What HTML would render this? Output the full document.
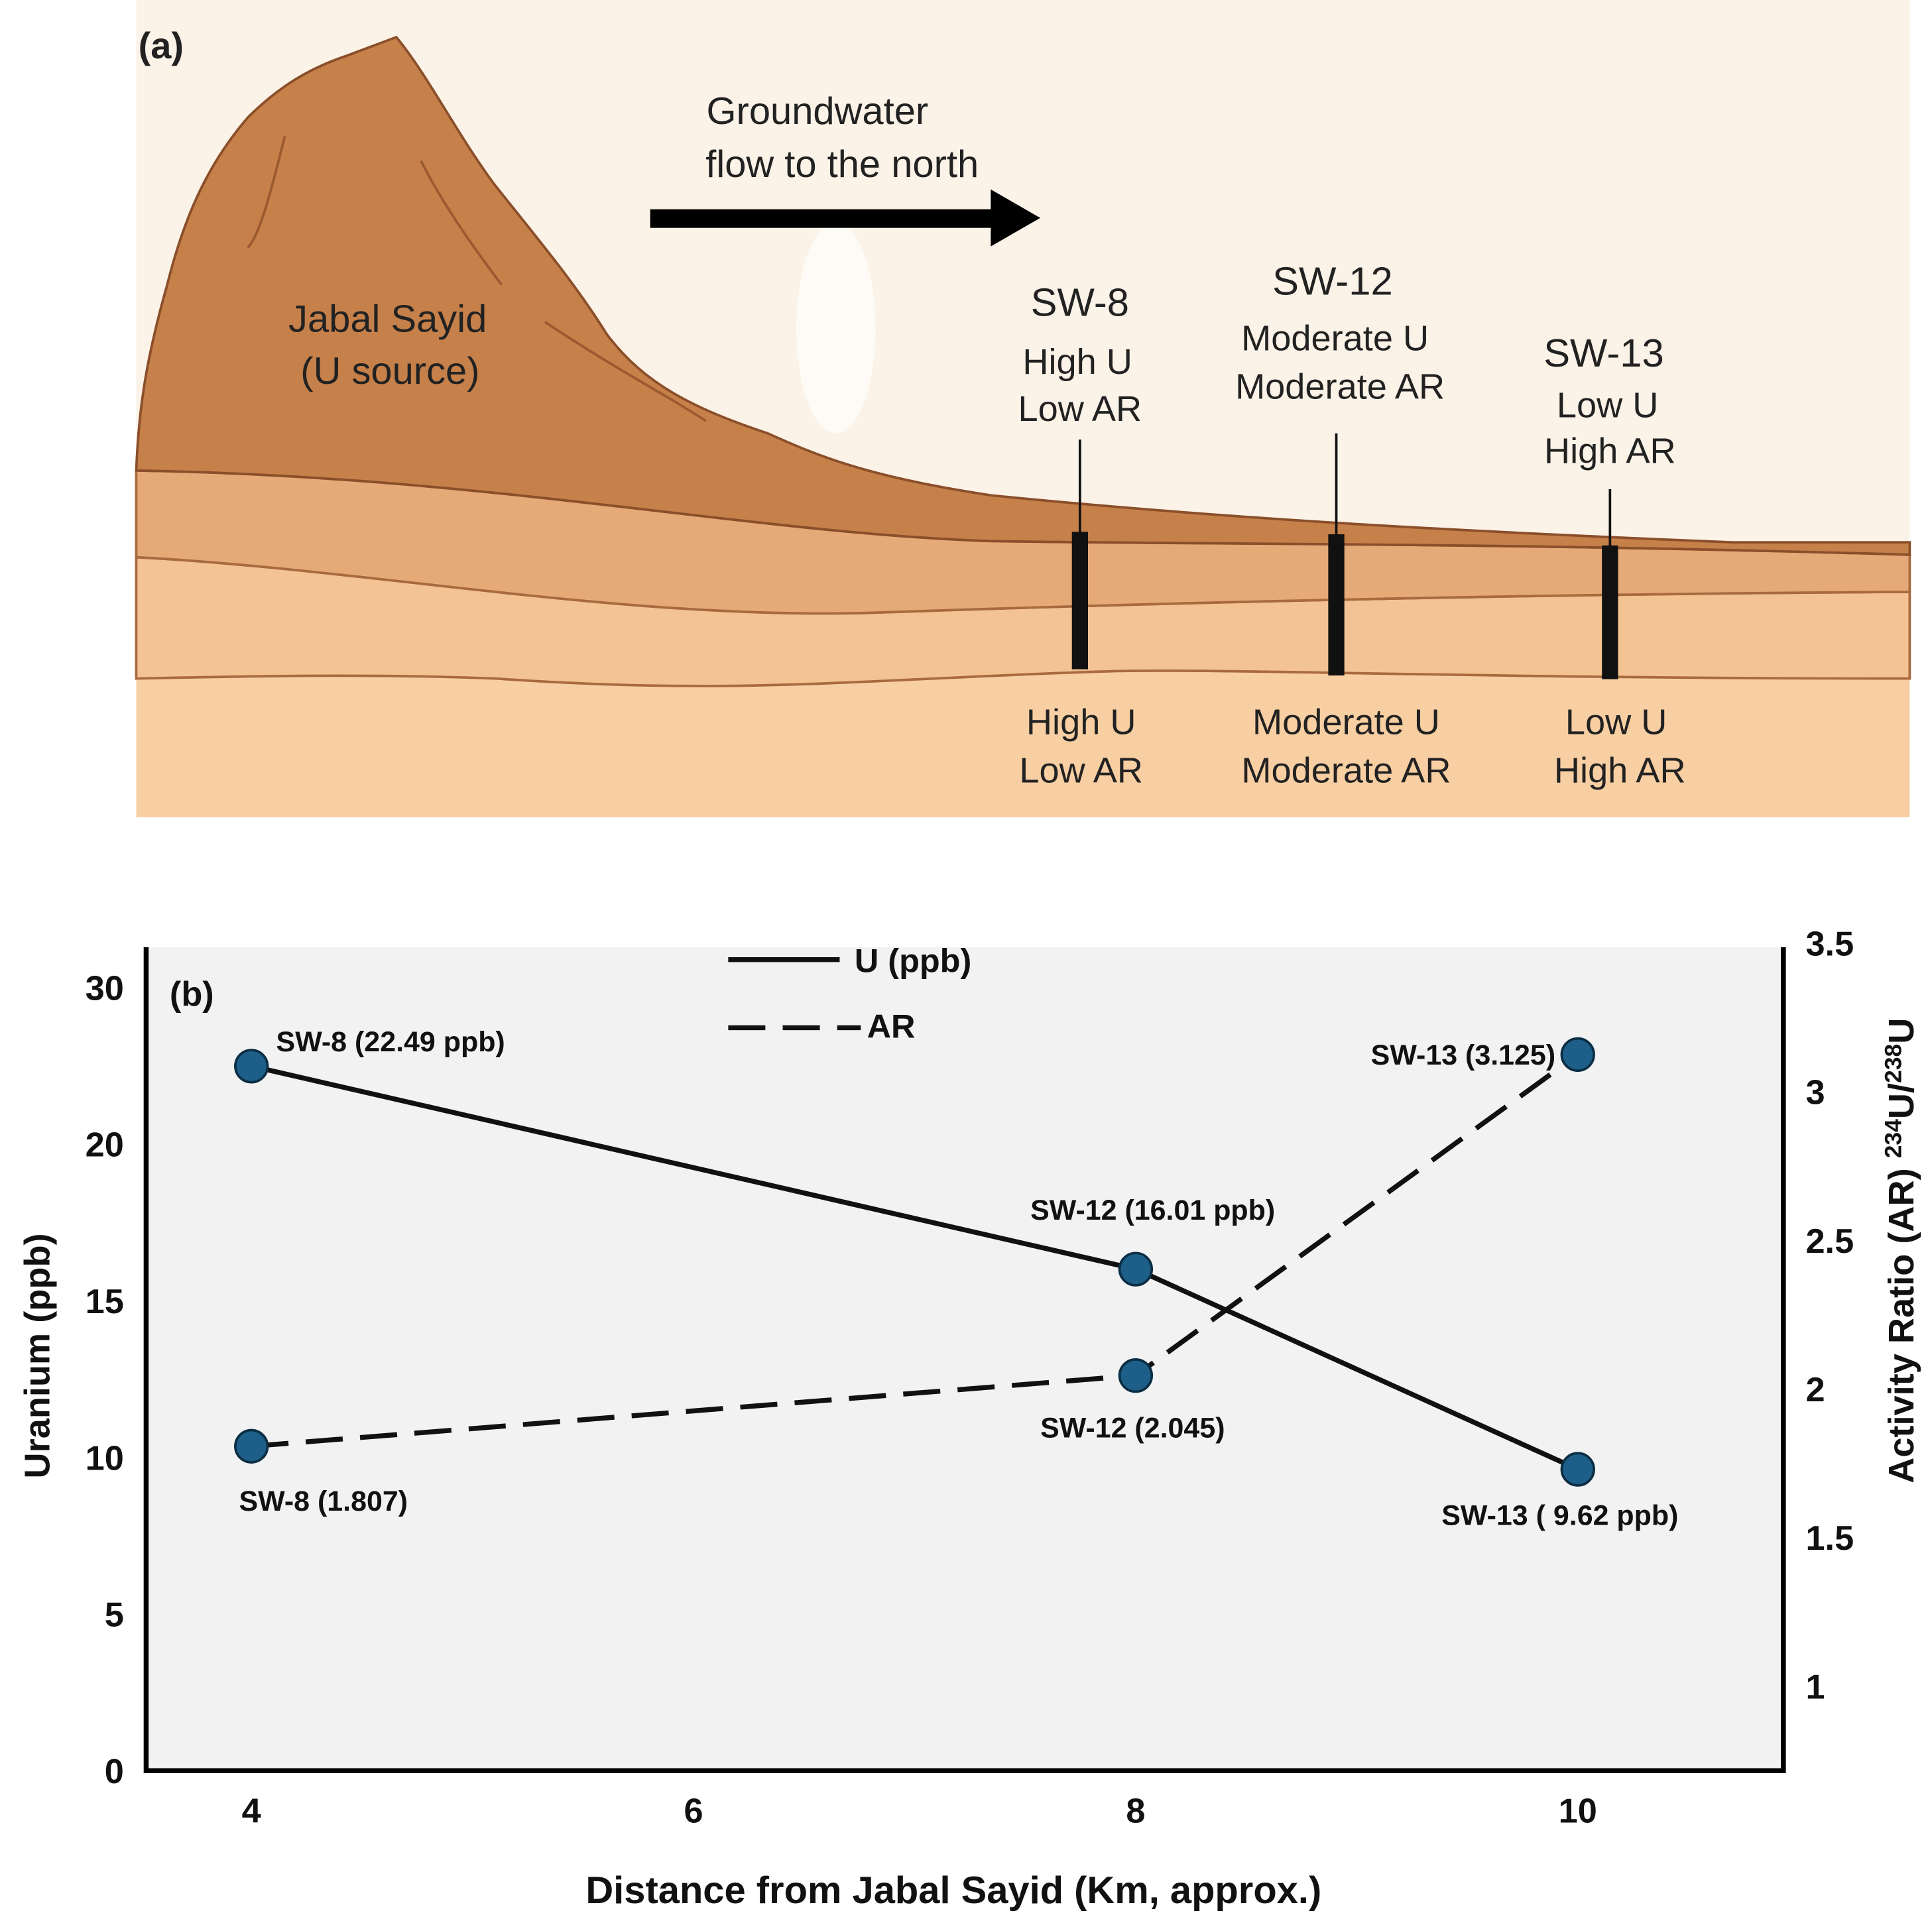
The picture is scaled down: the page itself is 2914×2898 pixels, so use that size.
<!DOCTYPE html>
<html><head><meta charset="utf-8"><style>
html,body{margin:0;padding:0;background:#fff}
svg{display:block}
text{font-family:"Liberation Sans",sans-serif}
</style></head><body>
<svg id="fig" width="2914" height="2898" viewBox="0 0 1560 1551.4" preserveAspectRatio="none" xmlns="http://www.w3.org/2000/svg">
<g>
  <rect x="110" y="0" width="1432" height="660" fill="#fcf3e8"/>
  <ellipse cx="675" cy="265" rx="32" ry="85" fill="#fefaf5"/>
  <rect x="110" y="540" width="1432" height="120" fill="#f8cfa3"/>
  <path d="M110,450 C300,460 500,500 700,495 C900,488 1200,480 1542,478 L1542,548 C1200,548 1000,540 900,542 C700,548 600,562 400,548 C300,544 200,546 110,548 Z" fill="#f3c393" stroke="#a86a3e" stroke-width="2"/>
  <path d="M110,380 C400,385 600,430 800,437 C1000,440 1200,438 1542,448 L1542,478 C1200,480 900,488 700,495 C500,500 300,460 110,450 Z" fill="#e5aa77" stroke="#a86a3e" stroke-width="2"/>
  <path d="M110,380 C112,330 118,290 135,230 C150,170 170,130 200,95 C225,70 250,55 280,45 L320,30 C345,60 370,110 400,150 C440,200 465,230 490,270 C520,310 560,330 620,350 C660,368 700,385 800,400 C1000,420 1200,430 1400,438 L1542,438 L1542,448 C1200,438 1000,440 800,437 C600,430 400,385 110,380 Z" fill="#c6804a" stroke="#8a4f2a" stroke-width="2"/>
  <path d="M340,130 C360,170 390,210 405,230 M230,110 C220,150 210,190 200,200 M440,260 C500,300 540,320 570,340" fill="none" stroke="#9a5a30" stroke-width="2"/>
  <g fill="#111" stroke="#111">
    <line x1="872" y1="355" x2="872" y2="430" stroke-width="2"/>
    <rect x="866" y="430" width="12" height="110"/>
    <line x1="1079" y1="350" x2="1079" y2="432" stroke-width="2"/>
    <rect x="1073" y="432" width="12" height="113"/>
    <line x1="1300" y1="395" x2="1300" y2="441" stroke-width="2"/>
    <rect x="1294" y="441" width="12" height="107"/>
  </g>
  <g fill="#000">
    <rect x="525" y="169" width="280" height="15"/>
    <polygon points="800,153 840,176 800,199"/>
  </g>
  <g fill="#222" font-size="31" text-anchor="middle">
    <text x="130" y="47" font-weight="bold" font-size="30">(a)</text>
    <text x="660" y="100">Groundwater</text>
    <text x="680" y="143">flow to the north</text>
    <text x="313" y="268">Jabal Sayid</text>
    <text x="315" y="310">(U source)</text>
    <text x="872" y="255" font-size="32">SW-8</text>
    <text x="870" y="302" font-size="29">High U</text>
    <text x="872" y="340" font-size="29">Low AR</text>
    <text x="1076" y="238" font-size="32">SW-12</text>
    <text x="1078" y="283" font-size="29">Moderate U</text>
    <text x="1082" y="322" font-size="29">Moderate AR</text>
    <text x="1295" y="296" font-size="32">SW-13</text>
    <text x="1298" y="337" font-size="29">Low U</text>
    <text x="1300" y="374" font-size="29">High AR</text>
    <text x="873" y="593" font-size="29">High U</text>
    <text x="873" y="632" font-size="29">Low AR</text>
    <text x="1087" y="593" font-size="29">Moderate U</text>
    <text x="1087" y="632" font-size="29">Moderate AR</text>
    <text x="1305" y="593" font-size="29">Low U</text>
    <text x="1308" y="632" font-size="29">High AR</text>
  </g>
</g>
<g id="chart"></g>
</svg>
<script>
const distances = [4, 8, 10];
const uranium = [22.49, 16.01, 9.62];
const activityRatio = [1.807, 2.045, 3.125];
const uLabels = ["SW-8 (22.49 ppb)", "SW-12 (16.01 ppb)", "SW-13 ( 9.62 ppb)"];
const arLabels = ["SW-8  (1.807)", "SW-12  (2.045)", "SW-13 (3.125)"];
const xTicks = [4, 6, 8, 10];
const leftTicks = [0, 5, 10, 15, 20, 25];
const leftTickLabels = ["0", "5", "10", "15", "20", "30"];
const rightTicks = [1, 1.5, 2, 2.5, 3, 3.5];

const NS = "http://www.w3.org/2000/svg";
const chart = document.getElementById('chart');
const xS = v => 203 + (v - 4) * 178.5;
const yL = v => 1430 - v * 25.3;
const yR = v => 1168 - (v - 1.807) * 240;
function mk(tag, attrs, parent) {
  const e = document.createElementNS(NS, tag);
  for (const k in attrs) e.setAttribute(k, attrs[k]);
  (parent || chart).appendChild(e);
  return e;
}
function txt(s, x, y, attrs) {
  const t = mk('text', Object.assign({x: x, y: y, 'font-weight': 'bold', fill: '#111'}, attrs));
  t.textContent = s;
  return t;
}
const bg = mk('rect', {x: 118, y: 765, width: 1322, height: 665, fill: '#f2f2f2'});


const axes = mk('path', {d: 'M118,765 L118,1430 L1440,1430 L1440,765', fill: 'none', stroke: '#000', 'stroke-width': 4});



xTicks.forEach(v => {
  const t = txt(String(v), xS(v), 1472, {'font-size': 28, 'text-anchor': 'middle'});
  
  
});
leftTicks.forEach((v, i) => {
  const t = txt(leftTickLabels[i], 100, yL(v) + 10, {'font-size': 28, 'text-anchor': 'end'});
  
  
});
rightTicks.forEach(v => {
  const t = txt(String(v), 1458, yR(v) + 10, {'font-size': 28});
  
  
});
const xt = txt('Distance from Jabal Sayid (Km, approx.)', 770, 1537, {'font-size': 31, 'text-anchor': 'middle'});


const yt = txt('Uranium (ppb)', 0, 0, {'font-size': 29, 'text-anchor': 'middle', transform: 'translate(40,1095) rotate(-90)'});


const rt = mk('text', {'font-size': 29, 'font-weight': 'bold', fill: '#111', 'text-anchor': 'middle', transform: 'translate(1545,1010) rotate(-90)'});
rt.innerHTML = 'Activity Ratio (AR) <tspan font-size="19" dy="-10">234</tspan><tspan dy="10">U/</tspan><tspan font-size="19" dy="-10">238</tspan><tspan dy="10">U</tspan>';


const pl = txt('(b)', 137, 812, {'font-size': 28});



const uLine = mk('polyline', {points: distances.map((d, i) => xS(d) + ',' + yL(uranium[i])).join(' '), fill: 'none', stroke: '#111', 'stroke-width': 4});


const arLine = mk('polyline', {points: distances.map((d, i) => xS(d) + ',' + yR(activityRatio[i])).join(' '), fill: 'none', stroke: '#111', 'stroke-width': 4, 'stroke-dasharray': '30,14'});



const uOff = [[20, -12, 'start'], [-85, -40, 'start'], [-110, 45, 'start']];
const arOff = [[-10, 52, 'start'], [-77, 50, 'start'], [-18, 8, 'end']];
distances.forEach((d, i) => {
  const c1 = mk('circle', {cx: xS(d), cy: yL(uranium[i]), r: 13, fill: '#1d5f88', stroke: '#0b2e44', 'stroke-width': 2});
  
  
  const c2 = mk('circle', {cx: xS(d), cy: yR(activityRatio[i]), r: 13, fill: '#1d5f88', stroke: '#0b2e44', 'stroke-width': 2});
  
  
  const l1 = txt(uLabels[i], xS(d) + uOff[i][0], yL(uranium[i]) + uOff[i][1], {'font-size': 23, 'text-anchor': uOff[i][2]});
  
  
  const l2 = txt(arLabels[i], xS(d) + arOff[i][0], yR(activityRatio[i]) + arOff[i][1], {'font-size': 23, 'text-anchor': arOff[i][2]});
  
  
});

const lg1 = mk('line', {x1: 588, y1: 775, x2: 678, y2: 775, stroke: '#111', 'stroke-width': 4});


const lt1 = txt('U (ppb)', 690, 785, {'font-size': 27});


const lg2 = mk('line', {x1: 588, y1: 830, x2: 695, y2: 830, stroke: '#111', 'stroke-width': 4, 'stroke-dasharray': '30,14'});


const lt2 = txt('AR', 700, 838, {'font-size': 27});


</script>
</body></html>
